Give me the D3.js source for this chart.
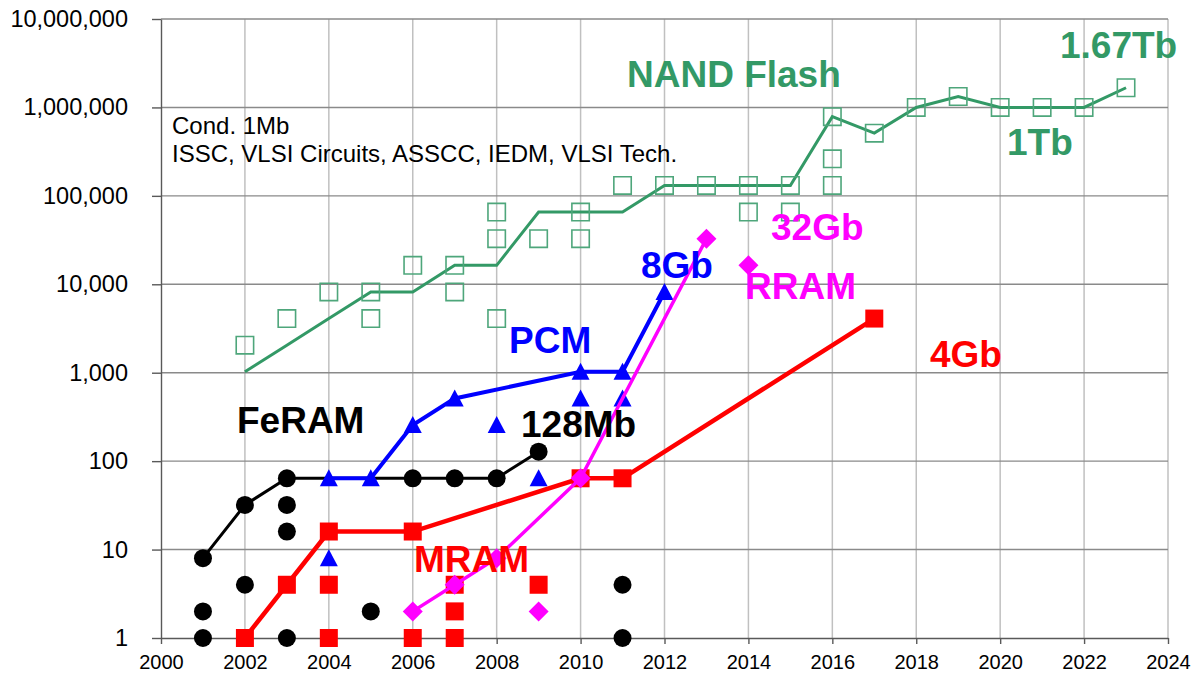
<!DOCTYPE html>
<html>
<head>
<meta charset="utf-8">
<script src="https://cdn.jsdelivr.net/npm/d3@7"></script>
<style>
  html, body { margin: 0; padding: 0; background: #ffffff; }
  svg { display: block; font-family: "Liberation Sans", Arial, sans-serif; }
</style>
</head>
<body>
<svg id="chart" width="1197" height="675"></svg>
<script>
// ---------------- DATA ----------------
const xTickValues = [2000, 2002, 2004, 2006, 2008, 2010, 2012, 2014, 2016, 2018, 2020, 2022, 2024];
const yTickValues = [1, 10, 100, 1000, 10000, 100000, 1000000, 10000000];

// NAND Flash
const nandLineYears  = [2002, 2003, 2004, 2005, 2006, 2007, 2008, 2009, 2010, 2011, 2012, 2013, 2014, 2015, 2016, 2017, 2018, 2019, 2020, 2021, 2022, 2023];
const nandLineValues = [1024, 2048, 4096, 8192, 8192, 16384, 16384, 65536, 65536, 65536, 131072, 131072, 131072, 131072, 786432, 512000, 1000000, 1330000, 1000000, 1000000, 1000000, 1670000];
const nandPointYears  = [2002, 2003, 2004, 2005, 2005, 2006, 2007, 2007, 2008, 2008, 2008, 2009, 2010, 2010, 2011, 2012, 2013, 2014, 2014, 2015, 2015, 2016, 2016, 2016, 2017, 2018, 2019, 2020, 2021, 2022, 2023];
const nandPointValues = [2048, 4096, 8192, 8192, 4096, 16384, 16384, 8192, 65536, 32768, 4096, 32768, 65536, 32768, 131072, 131072, 131072, 131072, 65536, 131072, 65536, 786432, 262144, 131072, 512000, 1000000, 1330000, 1000000, 1000000, 1000000, 1670000];

// FeRAM
const feramLineYears  = [2001, 2002, 2003, 2004, 2005, 2006, 2007, 2008, 2009];
const feramLineValues = [8, 32, 64, 64, 64, 64, 64, 64, 128];
const feramPointYears  = [2001, 2001, 2001, 2002, 2002, 2003, 2003, 2003, 2003, 2005, 2006, 2007, 2008, 2009, 2011, 2011];
const feramPointValues = [8, 2, 1, 32, 4, 64, 32, 16, 1, 2, 64, 64, 64, 128, 4, 1];

// PCM
const pcmLineYears  = [2004, 2005, 2006, 2007, 2010, 2011, 2012];
const pcmLineValues = [64, 64, 256, 512, 1024, 1024, 8192];
const pcmPointYears  = [2004, 2004, 2005, 2006, 2007, 2008, 2009, 2010, 2010, 2011, 2011, 2012];
const pcmPointValues = [64, 8, 64, 256, 512, 256, 64, 1024, 512, 1024, 512, 8192];

// MRAM
const mramLineYears  = [2002, 2003, 2004, 2006, 2010, 2011, 2017];
const mramLineValues = [1, 4, 16, 16, 64, 64, 4096];
const mramPointYears  = [2002, 2003, 2004, 2004, 2004, 2006, 2006, 2007, 2007, 2007, 2009, 2010, 2011, 2017];
const mramPointValues = [1, 4, 16, 4, 1, 16, 1, 4, 2, 1, 4, 64, 64, 4096];

// RRAM
const rramLineYears  = [2006, 2007, 2008, 2010, 2013];
const rramLineValues = [2, 4, 8, 64, 32768];
const rramPointYears  = [2006, 2007, 2008, 2009, 2010, 2013, 2014];
const rramPointValues = [2, 4, 8, 2, 64, 32768, 16384];

// ---------------- CHART ----------------
const svg = d3.select("#chart");
const W = 1197, H = 675;
const plot = { left: 161, right: 1168, top: 19, bottom: 638 };
const FONT = '"Liberation Sans", Arial, sans-serif';

svg.append("rect").attr("width", W).attr("height", H).attr("fill", "#ffffff");

const x = d3.scaleLinear().domain([2000, 2024]).range([plot.left, plot.right]);
const y = d3.scaleLog().domain([1, 1e7]).range([plot.bottom, plot.top]);

// grid
const grid = svg.append("g");
grid.selectAll("line.v").data(xTickValues.filter(d => d > 2000)).join("line")
  .attr("x1", d => x(d)).attr("x2", d => x(d))
  .attr("y1", plot.top).attr("y2", plot.bottom)
  .attr("stroke", "#c0c0c0").attr("stroke-width", 1.5);
grid.selectAll("line.h").data(yTickValues.filter(d => d > 1)).join("line")
  .attr("x1", plot.left).attr("x2", plot.right)
  .attr("y1", d => y(d)).attr("y2", d => y(d))
  .attr("stroke", "#8a8a8a").attr("stroke-width", 1.4);

// axes
const yAxis = svg.append("g").attr("transform", `translate(${plot.left},0)`)
  .call(d3.axisLeft(y).tickValues(yTickValues).tickFormat(d3.format(",")).tickSize(9).tickSizeOuter(0).tickPadding(24));
yAxis.select(".domain").attr("stroke", "#595959").attr("stroke-width", 1.4);
yAxis.selectAll(".tick line").attr("stroke", "#595959").attr("stroke-width", 1.4);
yAxis.selectAll(".tick text").attr("font-family", FONT).attr("font-size", 23.5).attr("fill", "#000");

const xAxis = svg.append("g").attr("transform", `translate(0,${plot.bottom})`)
  .call(d3.axisBottom(x).tickValues(xTickValues).tickFormat(d3.format("d")).tickSize(6).tickSizeOuter(0).tickPadding(11));
xAxis.select(".domain").attr("stroke", "#595959").attr("stroke-width", 1.4);
xAxis.selectAll(".tick line").attr("stroke", "#595959").attr("stroke-width", 1.4);
xAxis.selectAll(".tick text").attr("font-family", FONT).attr("font-size", 20).attr("fill", "#000");

// helpers
const line = d3.line().x(d => x(d[0])).y(d => y(d[1]));
function zip(a, b) { return a.map((v, i) => [v, b[i]]); }

function drawLine(years, values, color, width) {
  svg.append("path").datum(zip(years, values))
    .attr("d", line).attr("fill", "none")
    .attr("stroke", color).attr("stroke-width", width)
    .attr("stroke-linejoin", "miter");
}

const shapes = {
  hollowSquare: "M-8.7,-8.7H8.7V8.7H-8.7Z",
  square: "M-9,-9H9V9H-9Z",
  triangle: "M0,-9L9,8L-9,8Z",
  diamond: "M0,-10L10,0L0,10L-10,0Z"
};

function drawPoints(years, values, shape, fill, stroke, sw) {
  const g = svg.append("g");
  const pts = zip(years, values);
  if (shape === "circle") {
    g.selectAll("circle").data(pts).join("circle")
      .attr("cx", d => x(d[0])).attr("cy", d => y(d[1])).attr("r", 9)
      .attr("fill", fill);
  } else {
    g.selectAll("path").data(pts).join("path")
      .attr("transform", d => `translate(${x(d[0])},${y(d[1])})`)
      .attr("d", shapes[shape])
      .attr("fill", fill).attr("stroke", stroke || "none").attr("stroke-width", sw || 0);
  }
}

const GREEN = "#339966";
// NAND
drawLine(nandLineYears, nandLineValues, GREEN, 3);
drawPoints(nandPointYears, nandPointValues, "hollowSquare", "none", "#4ea67b", 1.6);
// FeRAM
drawLine(feramLineYears, feramLineValues, "#000000", 3);
drawPoints(feramPointYears, feramPointValues, "circle", "#000000");
// PCM
drawLine(pcmLineYears, pcmLineValues, "#0000ff", 4);
drawPoints(pcmPointYears, pcmPointValues, "triangle", "#0000ff");
// MRAM
drawLine(mramLineYears, mramLineValues, "#ff0000", 4.5);
drawPoints(mramPointYears, mramPointValues, "square", "#ff0000");
// RRAM
drawLine(rramLineYears, rramLineValues, "#ff00ff", 3.5);
drawPoints(rramPointYears, rramPointValues, "diamond", "#ff00ff");

// annotations
const notes = svg.append("g").attr("font-family", FONT);
notes.append("text").attr("x", 172).attr("y", 134).attr("font-size", 24).text("Cond. 1Mb");
notes.append("text").attr("x", 172).attr("y", 162).attr("font-size", 24).text("ISSC, VLSI Circuits, ASSCC, IEDM, VLSI Tech.");

const big = [
  { t: "NAND Flash", x: 627, y: 87, c: GREEN },
  { t: "1.67Tb", x: 1060, y: 58, c: GREEN },
  { t: "1Tb", x: 1007, y: 155, c: GREEN },
  { t: "32Gb", x: 771, y: 240, c: "#ff00ff" },
  { t: "RRAM", x: 745, y: 299, c: "#ff00ff" },
  { t: "8Gb", x: 641, y: 278, c: "#0000ff" },
  { t: "PCM", x: 509, y: 353, c: "#0000ff" },
  { t: "FeRAM", x: 237, y: 433, c: "#000000" },
  { t: "128Mb", x: 521, y: 437, c: "#000000" },
  { t: "4Gb", x: 930, y: 367, c: "#ff0000" },
  { t: "MRAM", x: 414, y: 572, c: "#ff0000" }
];
notes.selectAll("text.big").data(big).join("text").attr("class", "big")
  .attr("x", d => d.x).attr("y", d => d.y)
  .attr("font-size", 37).attr("font-weight", "bold")
  .attr("fill", d => d.c).text(d => d.t);
</script>
</body>
</html>
